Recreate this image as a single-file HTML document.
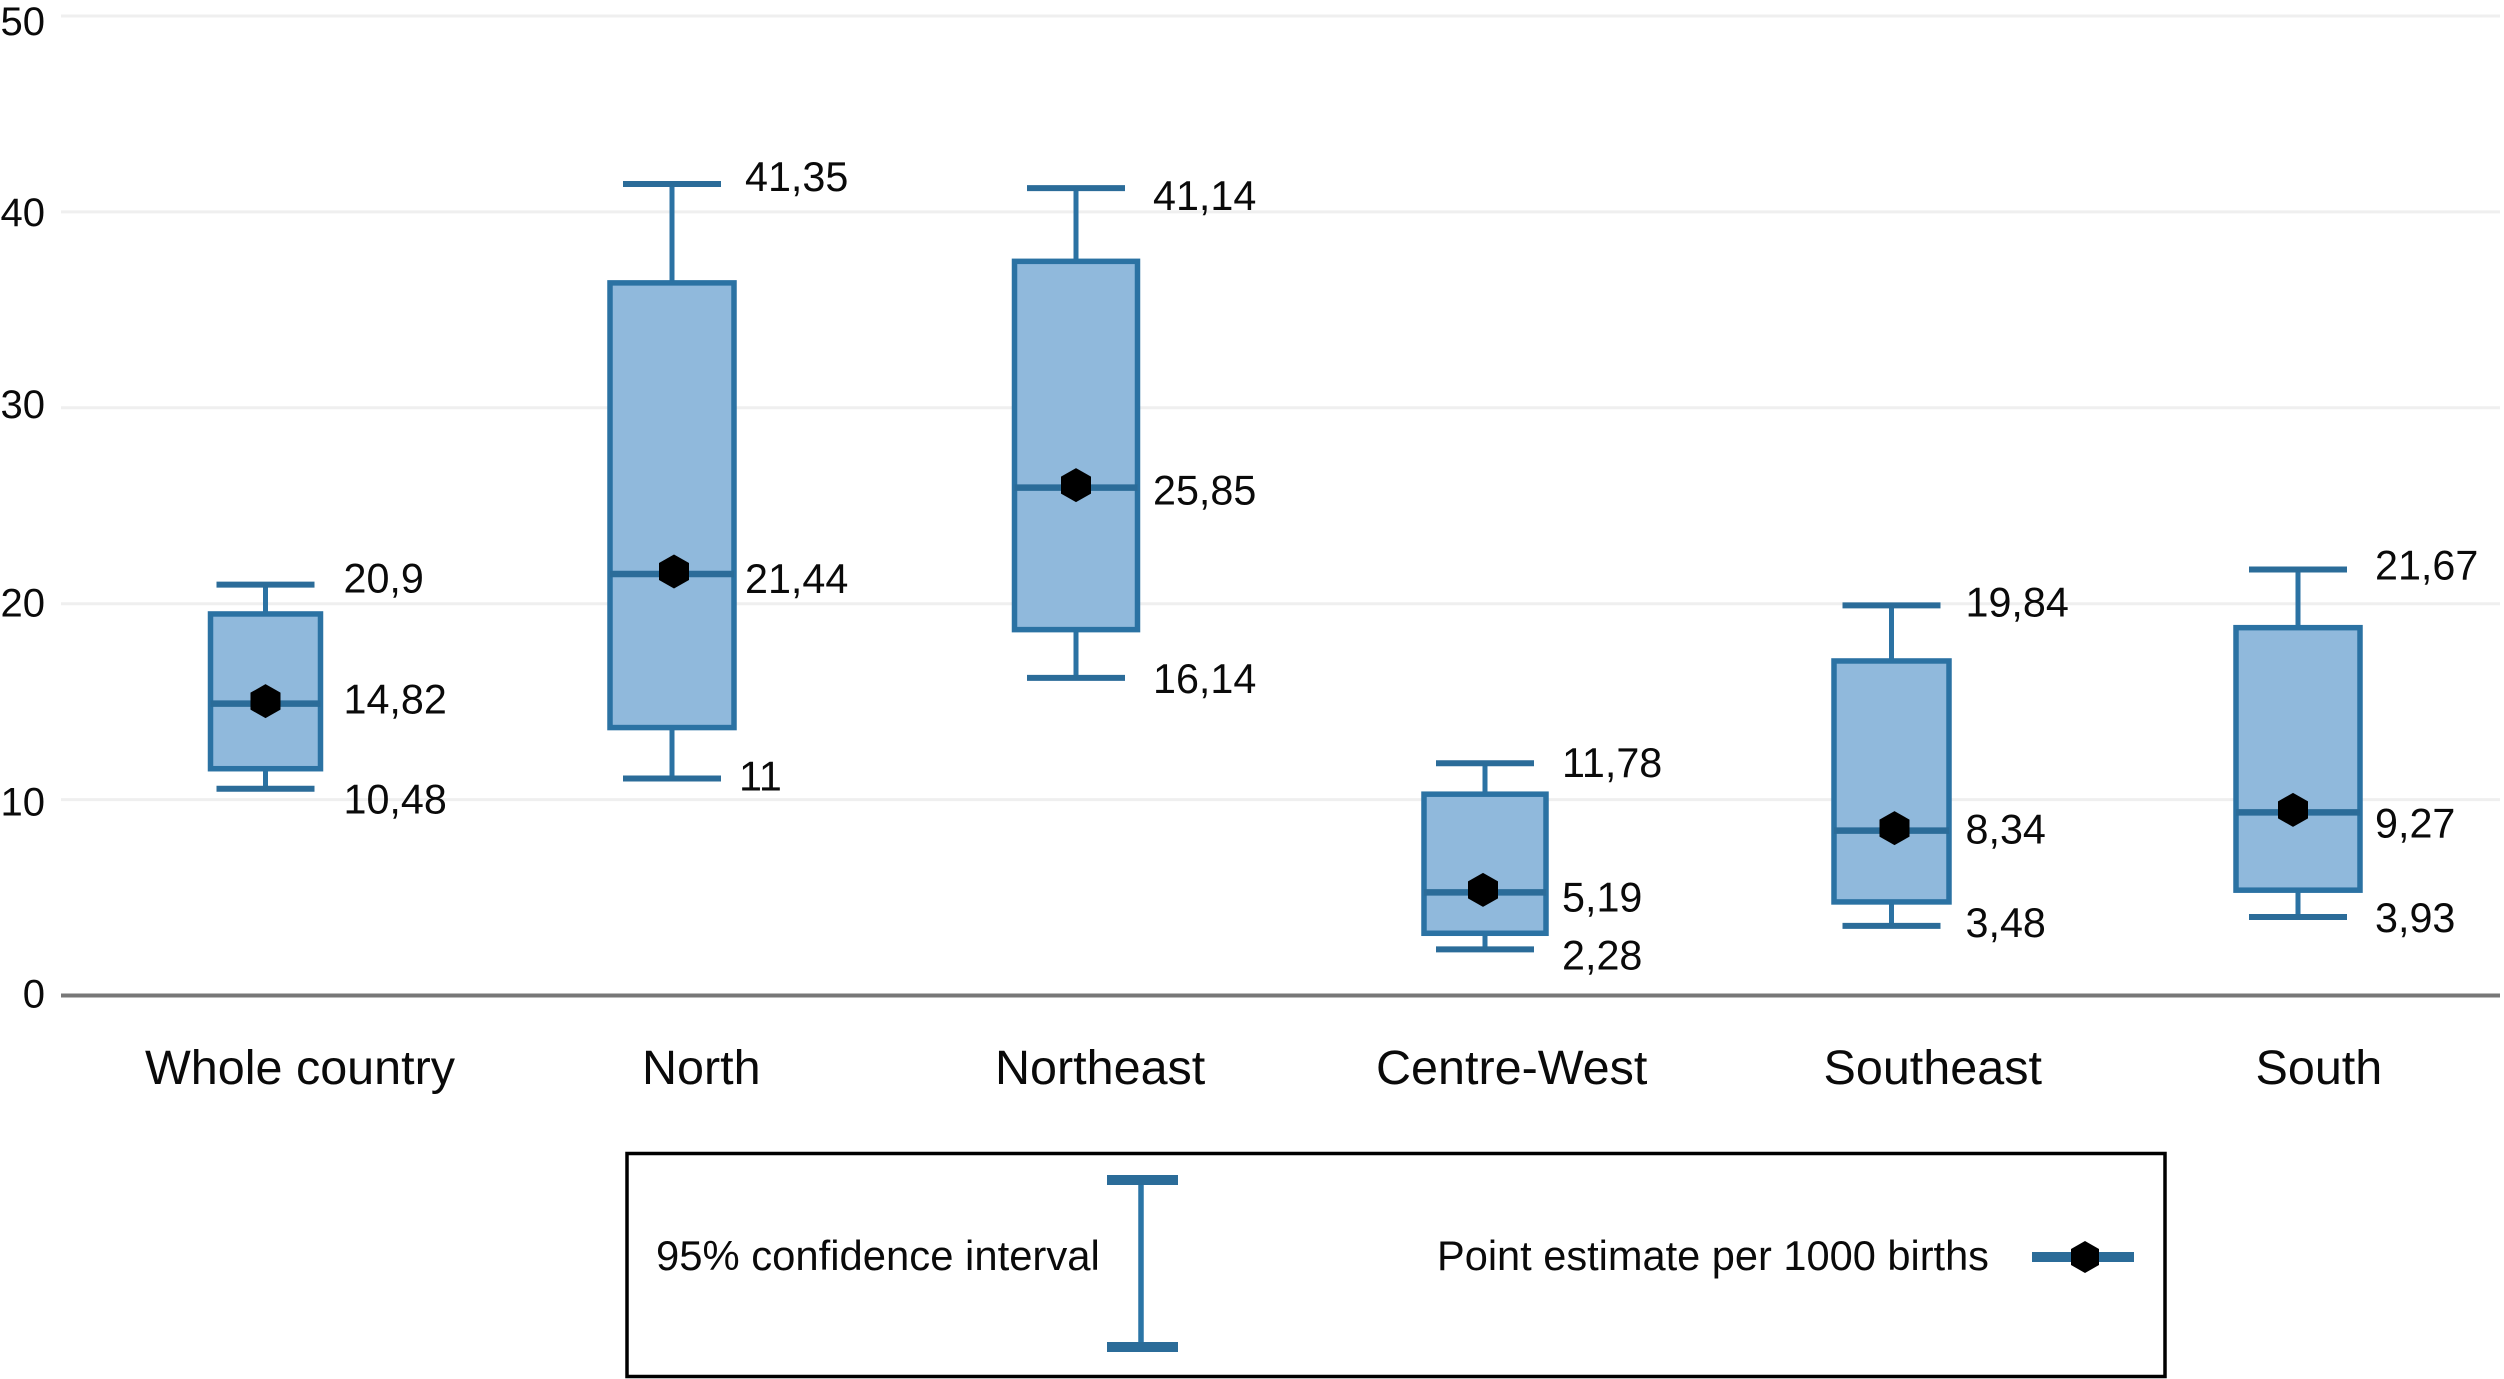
<!DOCTYPE html>
<html lang="en">
<head>
<meta charset="utf-8">
<title>Point estimates per 1000 births by region</title>
<style>
html,body{margin:0;padding:0;background:#fff;width:2504px;height:1379px;overflow:hidden}
svg{display:block}
text{font-family:"Liberation Sans",sans-serif;fill:#0a0a0a}
</style>
</head>
<body>
<svg id="chart" xmlns="http://www.w3.org/2000/svg" width="2504" height="1379" viewBox="0 0 2504 1379">
  <g id="grid"></g>
  <g id="yticks"></g>
  <g id="marks"></g>
  <g id="xlabels"></g>
  <g>
    <rect x="627" y="1153.5" width="1538" height="223" fill="none" stroke="#000" stroke-width="3.5"/>
    <text x="656" y="1270" font-size="41.8">95% confidence interval</text>
    <line x1="1141" y1="1180" x2="1141" y2="1347" stroke="#2b75a6" stroke-width="5.5"/>
    <line x1="1107" y1="1180" x2="1178" y2="1180" stroke="#2b6c99" stroke-width="10"/>
    <line x1="1107" y1="1347" x2="1178" y2="1347" stroke="#2b6c99" stroke-width="10"/>
    <text x="1437" y="1270" font-size="41.55">Point estimate per 1000 births</text>
    <line x1="2032" y1="1257" x2="2134" y2="1257" stroke="#2b6c99" stroke-width="10"/>
    <polygon points="2085,1241 2099,1249 2099,1265 2085,1273 2071,1265 2071,1249" fill="#000"/>
  </g>
</svg>
<script>
const categories = ["Whole country", "North", "Northeast", "Centre-West", "Southeast", "South"];
const upperCI = [20.9, 41.35, 41.14, 11.78, 19.84, 21.67];
const boxTop = [19.4, 36.3, 37.4, 10.2, 17.0, 18.7];
const pointEstimate = [14.82, 21.44, 25.85, 5.19, 8.34, 9.27];
const boxBottom = [11.5, 13.6, 18.6, 3.1, 4.7, 5.3];
const lowerCI = [10.48, 11, 16.14, 2.28, 3.48, 3.93];
const tickValues = [0, 10, 20, 30, 40, 50];

const NS = "http://www.w3.org/2000/svg";
function y(v) { return 995.5 - 19.59 * v; }
function my(v) { return y(v) - 1.5; }
function x(i) { return 265.5 + 406.5 * i; }
function fmt(v) { return String(v).replace(".", ","); }
function mk(parent, tag, attrs, txt) {
  const el = document.createElementNS(NS, tag);
  for (const k in attrs) el.setAttribute(k, attrs[k]);
  if (txt !== undefined) el.textContent = txt;
  parent.appendChild(el);
  return el;
}

function draw() {
  const GRID = "#efefef", AXIS = "#777777", STROKE = "#2b72a3", CAP = "#2b6c99", FILL = "#90b9dc";
  /* hand-placement of the original figure's annotations, relative to their marks */
  const tickNudge = [12, 16, 13, 10, 14, 19];
  const centerNudge = [0, 0, -2.5, 0, 0, 0];
  const boxHalf = [55, 62, 61.5, 61, 57.5, 62];
  const markerNudge = [0, 2, 0, -2, 3, -5];
  const labelDx = [78, 73, 77, 77, 74, 77];
  const loDx = [0, -6, 0, 0, 0, 0];
  const hiNudge = [6.5, 5.5, 20.5, 12.5, 9.5, 8.5];
  const midNudge = [8.5, 17.5, 15.5, 17.5, 11.5, 23.5];
  const loNudge = [23.5, 10.5, 13.5, 18.5, 9.5, 13.5];
  const catLeft = [145, 642, 995, 1376, 1823.5, 2255.5];

  const grid = document.getElementById("grid");
  const yt = document.getElementById("yticks");
  tickValues.forEach(function (t, i) {
    const line = mk(grid, "line", {
      x1: 61, x2: 2500, y1: y(t), y2: y(t),
      stroke: t === 0 ? AXIS : GRID, "stroke-width": t === 0 ? 4 : 3
    });
    
    
    const lab = mk(yt, "text", { x: 45, y: y(t) + tickNudge[i], "font-size": 40, "text-anchor": "end" }, String(t));
    
    
  });

  const marks = document.getElementById("marks");
  const xl = document.getElementById("xlabels");
  categories.forEach(function (c, i) {
    const cx = x(i) + centerNudge[i];
    const g = mk(marks, "g", {});
    
    

    const stem = mk(g, "line", { x1: cx, x2: cx, y1: my(upperCI[i]), y2: my(lowerCI[i]), stroke: STROKE, "stroke-width": 5 });
    
    

    const capHi = mk(g, "line", { x1: cx - 49, x2: cx + 49, y1: my(upperCI[i]), y2: my(upperCI[i]), stroke: CAP, "stroke-width": 6 });
    
    

    const capLo = mk(g, "line", { x1: cx - 49, x2: cx + 49, y1: my(lowerCI[i]), y2: my(lowerCI[i]), stroke: CAP, "stroke-width": 6 });
    
    

    const box = mk(g, "rect", {
      x: cx - boxHalf[i], y: my(boxTop[i]), width: boxHalf[i] * 2,
      height: my(boxBottom[i]) - my(boxTop[i]),
      fill: FILL, stroke: STROKE, "stroke-width": 5.5
    });
    
    

    const med = mk(g, "line", { x1: cx - boxHalf[i], x2: cx + boxHalf[i], y1: my(pointEstimate[i]), y2: my(pointEstimate[i]), stroke: CAP, "stroke-width": 6.5 });
    
    

    const mkx = cx + markerNudge[i], mky = my(pointEstimate[i]) - 2.5;
    const pts = [[0, -17], [15, -8.5], [15, 8.5], [0, 17], [-15, 8.5], [-15, -8.5]]
      .map(function (p) { return (mkx + p[0]) + "," + (mky + p[1]); }).join(" ");
    const marker = mk(g, "polygon", { points: pts, fill: "#000" });
    
    

    const lx = cx + labelDx[i];
    const hi = mk(g, "text", { x: lx, y: y(upperCI[i]) + hiNudge[i], "font-size": 41.3 }, fmt(upperCI[i]));
    
    

    const mid = mk(g, "text", { x: lx, y: y(pointEstimate[i]) + midNudge[i], "font-size": 41.3 }, fmt(pointEstimate[i]));
    
    

    const lo = mk(g, "text", { x: lx + loDx[i], y: y(lowerCI[i]) + loNudge[i], "font-size": 41.3 }, fmt(lowerCI[i]));
    
    

    const cat = mk(xl, "text", { x: catLeft[i], y: 1084, "font-size": 48.5 }, c);
    
    
  });
}
draw();
</script>
</body>
</html>
